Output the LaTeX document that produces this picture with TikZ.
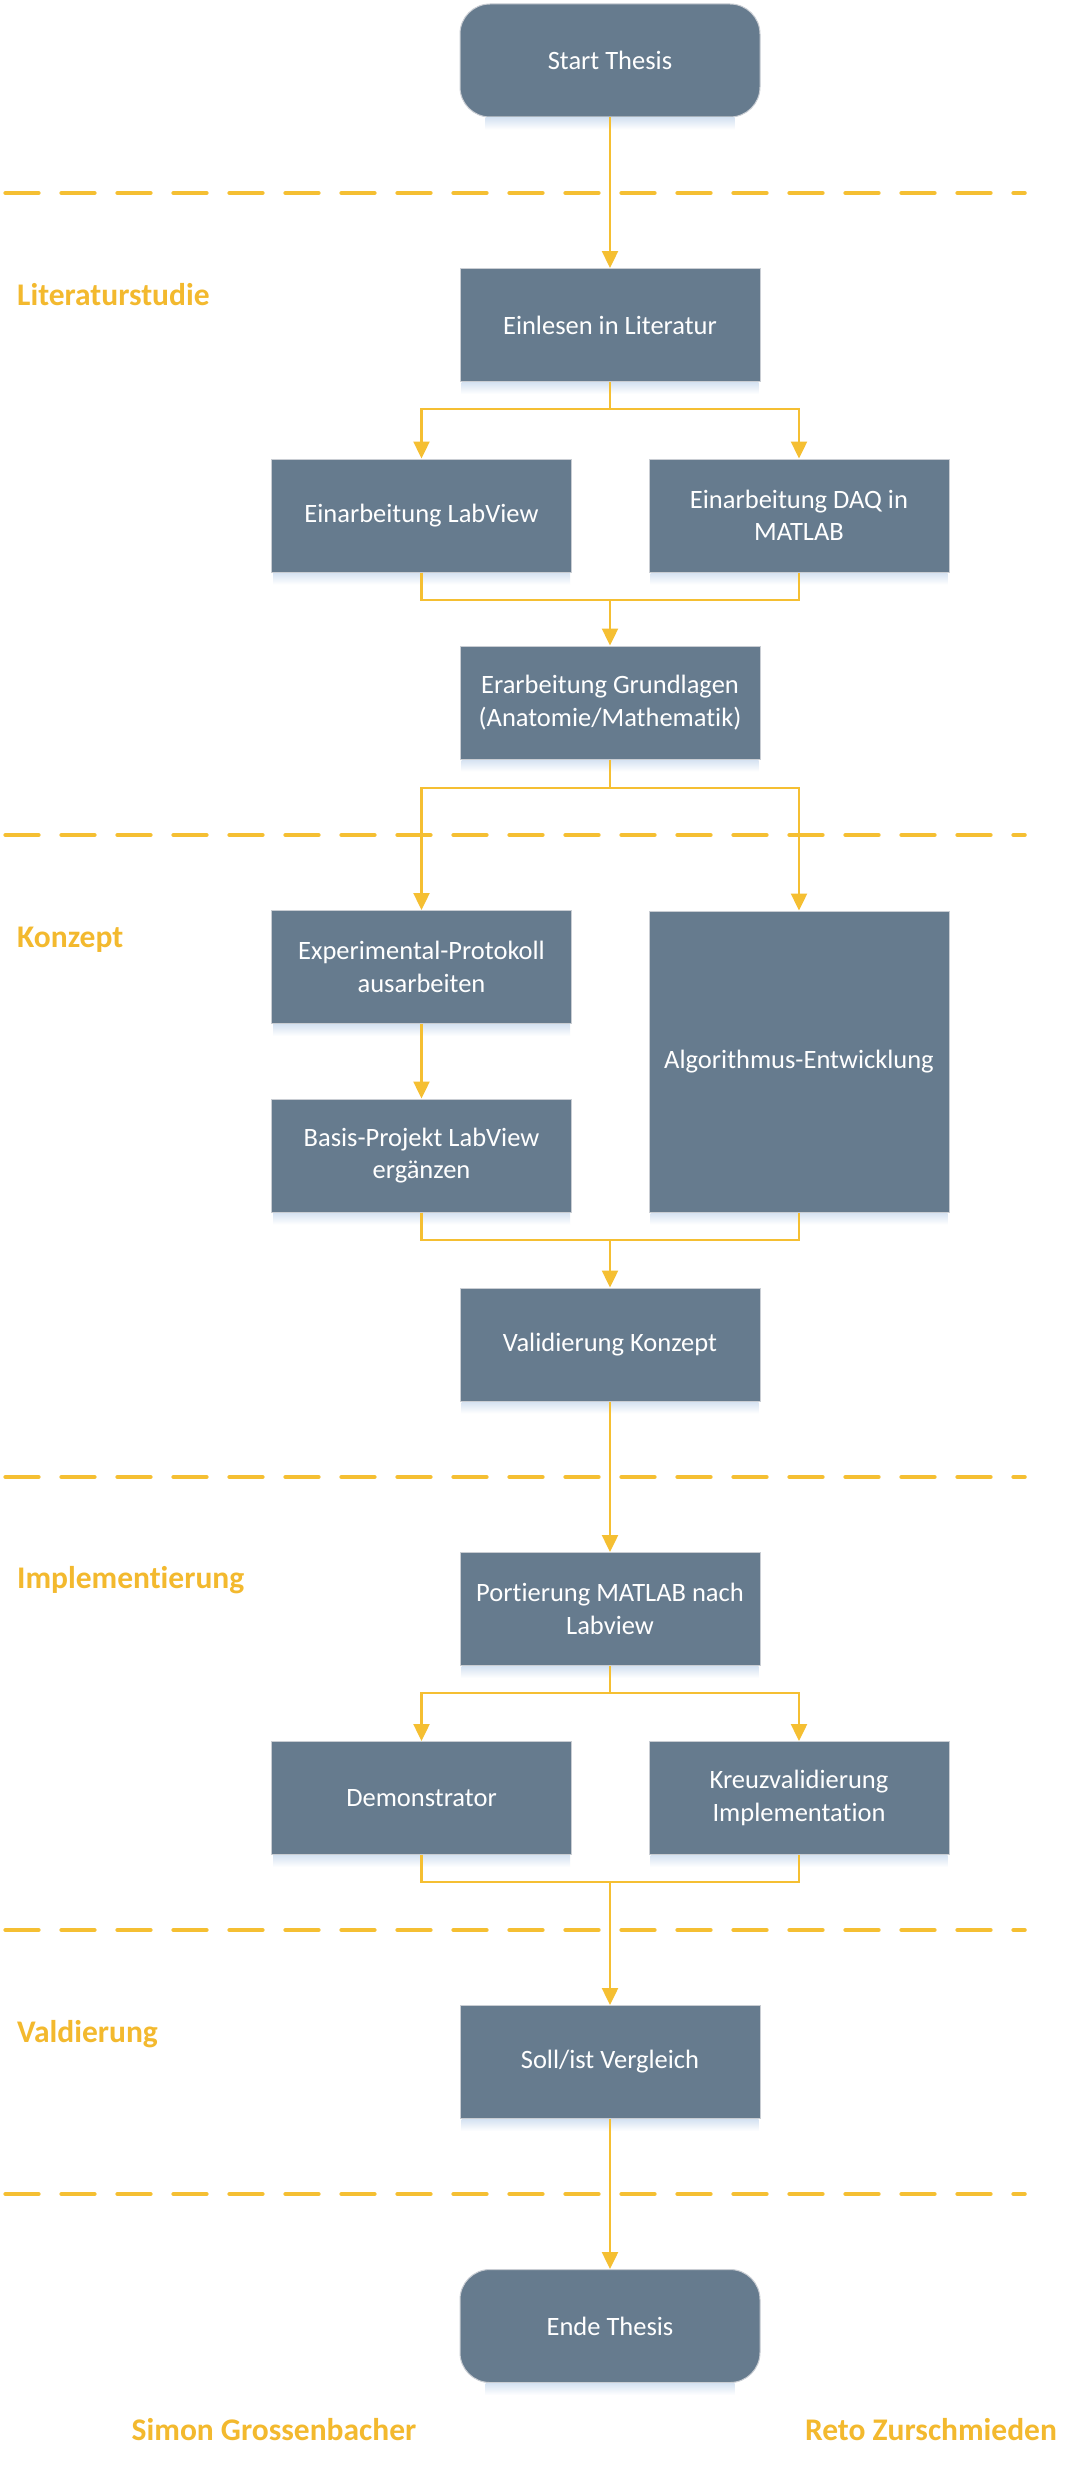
\documentclass[tikz,border=0pt]{standalone}
\usepackage{fontspec}
\setmainfont{Carlito}[Ligatures={NoCommon}]
\usetikzlibrary{arrows.meta}
\definecolor{boxc}{HTML}{667B8E}
\definecolor{linec}{HTML}{F5BF32}
\definecolor{labc}{HTML}{F3B92E}
\definecolor{shadc}{HTML}{D6E3F2}
\definecolor{bordc}{HTML}{C9CDD3}
\begin{document}
\begin{tikzpicture}[x=1pt,y=-1pt,
  box/.style={rectangle, fill=boxc, draw=bordc, line width=1pt,
    minimum width=300pt, minimum height=113pt, inner sep=0pt,
    align=center, text=white,
    font=\fontsize{26.5}{32.5}\selectfont},
  term/.style={box, rounded corners=30pt},
  conn/.style={draw=linec, line width=2.4pt},
  arr/.style={conn, -{Triangle[width=16pt,length=17pt]}},
  sep/.style={draw=linec, line width=4.6pt, line cap=round, dash pattern=on 32.8pt off 23.2pt},
  lab/.style={anchor=base west, inner sep=0pt, text=labc,
    font=\fontsize{31.5}{36}\selectfont\bfseries},
  siglab/.style={anchor=base, inner sep=0pt, text=labc,
    font=\fontsize{31.5}{36}\selectfont\bfseries}]
\useasboundingbox (0,0) rectangle (1075,2467);
\fill[white] (0,0) rectangle (1075,2467);

% separators
\foreach \yy/\nm in {193/s1, 835/s2, 1477/s3, 1930/s4, 2194/s5}{
  \coordinate (\nm a) at (5.6,\yy);
  \coordinate (\nm b) at (1024.5,\yy);
  \draw[sep] (\nm a) -- (\nm b);
}

% labels
\node[lab] (l1) at (17,305) {Literaturstudie};
\node[lab] (l2) at (17,947) {Konzept};
\node[lab] (l3) at (17,1588) {Implementierung};
\node[lab] (l4) at (17,2042) {Valdierung};
\node[siglab] (n1) at (274,2440) {Simon Grossenbacher};
\node[siglab] (n2) at (931,2440) {Reto Zurschmieden};

% nodes
\node[term] (start) at (610,60.5) {Start Thesis};
\node[box] (einl) at (610,325) {Einlesen in Literatur};
\node[box] (labv) at (421.5,515.5) {Einarbeitung LabView};
\node[box] (daq) at (799,515.5) {Einarbeitung DAQ in\\MATLAB};
\node[box] (grund) at (610,702.5) {Erarbeitung Grundlagen\\(Anatomie/Mathematik)};
\node[box] (exp) at (421.5,967) {Experimental-Protokoll\\ausarbeiten};
\node[box, minimum height=301pt] (algo) at (799,1061.5) {Algorithmus-Entwicklung};
\node[box] (basis) at (421.5,1155.5) {Basis-Projekt LabView\\ergänzen};
\node[box] (valid) at (610,1344.5) {Validierung Konzept};
\node[box] (port) at (610,1609) {Portierung MATLAB nach\\Labview};
\node[box] (demo) at (421.5,1798) {Demonstrator};
\node[box] (kreuz) at (799,1798) {Kreuzvalidierung\\Implementation};
\node[box] (soll) at (610,2062) {Soll/ist Vergleich};
\node[term] (ende) at (610,2326) {Ende Thesis};

% soft shadows under the boxes
\foreach \n in {einl,labv,daq,grund,exp,algo,basis,valid,port,demo,kreuz,soll}{
  \shade[top color=shadc, bottom color=white]
    ([xshift=2pt,yshift=-0.5pt]\n.south west) rectangle ([xshift=-2pt,yshift=-12pt]\n.south east);
}
\foreach \n in {start,ende}{
  \shade[top color=shadc, bottom color=white]
    ([xshift=26pt,yshift=-0.5pt]\n.south west) rectangle ([xshift=-26pt,yshift=-12pt]\n.south east);
}

% junction points
\coordinate (b1) at (610,409);
\coordinate (m1) at (610,600);
\coordinate (b2) at (610,788);
\coordinate (m2) at (610,1240);
\coordinate (b3) at (610,1693);
\coordinate (m3) at (610,1882);

% connectors
\draw[arr] (start) -- (einl);
\draw[conn] (einl) -- (b1);
\draw[arr] (b1) -| (labv);
\draw[arr] (b1) -| (daq);
\draw[conn] (labv.south) |- (m1) -| (daq.south);
\draw[arr] (m1) -- (grund);
\draw[conn] (grund) -- (b2);
\draw[arr] (b2) -| (exp);
\draw[arr] (b2) -| (algo);
\draw[arr] (exp) -- (basis);
\draw[conn] (basis.south) |- (m2) -| (algo.south);
\draw[arr] (m2) -- (valid);
\draw[arr] (valid) -- (port);
\draw[conn] (port) -- (b3);
\draw[arr] (b3) -| (demo);
\draw[arr] (b3) -| (kreuz);
\draw[conn] (demo.south) |- (m3) -| (kreuz.south);
\draw[arr] (m3) -- (soll);
\draw[arr] (soll) -- (ende);
\end{tikzpicture}
\end{document}
